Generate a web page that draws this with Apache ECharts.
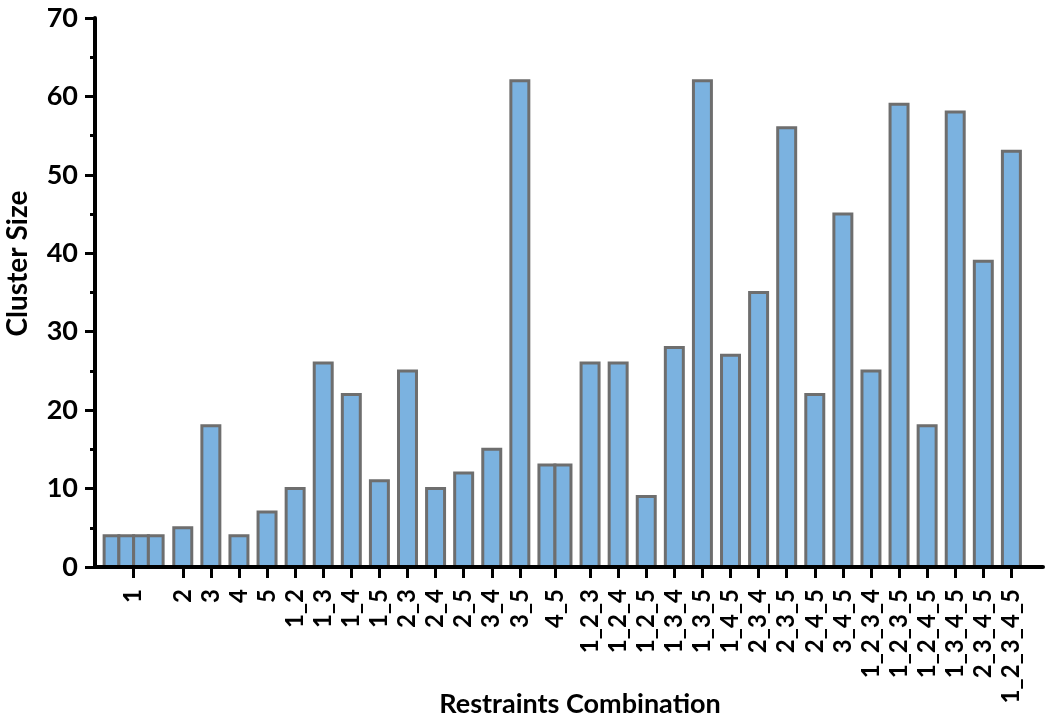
<!DOCTYPE html>
<html>
<head>
<meta charset="utf-8">
<script src="https://cdn.jsdelivr.net/npm/echarts@6/dist/echarts.min.js"></script>
<style>html,body{margin:0;padding:0;background:#fff;}#chart{width:1050px;height:725px;}</style>
</head>
<body>
<div id="chart"></div>
<script>
// ---- data ----
const categories = ['1','2','3','4','5','1_2','1_3','1_4','1_5','2_3','2_4','2_5','3_4','3_5','4_5',
  '1_2_3','1_2_4','1_2_5','1_3_4','1_3_5','1_4_5','2_3_4','2_3_5','2_4_5','3_4_5',
  '1_2_3_4','1_2_3_5','1_2_4_5','1_3_4_5','2_3_4_5','1_2_3_4_5'];
const clusterSizes = [[4,4,4,4],[5],[18],[4],[7],[10],[26],[22],[11],[25],[10],[12],[15],[62],[13,13],
  [26],[26],[9],[28],[62],[27],[35],[56],[22],[45],
  [25],[59],[18],[58],[39],[53]];
const yMin = 0, yMax = 70, yStep = 10;
const yTitle = 'Cluster Size';
const xTitle = 'Restraints Combination';

// ---- layout (fine slots on the category axis) ----
const SLOT_TOTAL = 135;
const slotPos = [];
let s = 5;
categories.forEach((c, i) => {
  if (i > 0) s += (c === '2' ? 7 : (c === '4_5' || c === '1_2_3') ? 5 : 4);
  slotPos.push(s);
});
const axisData = Array.from({length: SLOT_TOTAL}, (_, i) => '#' + i);
slotPos.forEach((p, i) => { axisData[p] = categories[i]; });
const isLabel = (i, v) => typeof v === 'string' && v.charAt(0) !== '#';

const barData = [];
clusterSizes.forEach((vals, i) => vals.forEach((v, k) => barData.push([slotPos[i], v, k, vals.length])));

const FONT = 'Lato';
const chart = echarts.init(document.getElementById('chart'), null, {renderer: 'canvas'});
chart.setOption({
  backgroundColor: '#ffffff',
  animation: false,
  grid: {left: 95, right: 7, top: 18, bottom: 158, containLabel: false, outerBoundsMode: 'none'},
  xAxis: {
    type: 'category',
    data: axisData,
    z: 5,
    boundaryGap: true,
    axisLine: {lineStyle: {color: '#000', width: 4}},
    axisTick: {show: true, alignWithLabel: true, interval: isLabel, length: 11, lineStyle: {color: '#000', width: 3}},
    axisLabel: {interval: isLabel, rotate: 90, margin: 22, color: '#000', fontFamily: FONT, fontWeight: 'bold', fontSize: 24},
    splitLine: {show: false},
    name: xTitle,
    nameLocation: 'middle',
    nameGap: 124,
    nameMoveOverlap: false,
    nameTextStyle: {color: '#000', fontFamily: FONT, fontWeight: 'bold', fontSize: 27, padding: [0, 0, 0, 22]}
  },
  yAxis: {
    type: 'value',
    min: yMin, max: yMax, interval: yStep,
    z: 5,
    axisLine: {show: true, lineStyle: {color: '#000', width: 4}},
    axisTick: {show: true, length: 10, lineStyle: {color: '#000', width: 3}},
    minorTick: {show: true, splitNumber: 2, length: 5, lineStyle: {color: '#000', width: 3}},
    axisLabel: {margin: 17, color: '#000', fontFamily: FONT, fontWeight: 'bold', fontSize: 27},
    splitLine: {show: false},
    name: yTitle,
    nameLocation: 'middle',
    nameGap: 63,
    nameMoveOverlap: false,
    nameTextStyle: {color: '#000', fontFamily: FONT, fontWeight: 'bold', fontSize: 28, padding: [0, 0, 0, 58]}
  },
  series: [{
    type: 'custom',
    z: 2,
    encode: {x: 0, y: 1},
    data: barData,
    renderItem: function (params, api) {
      const slot = api.value(0), v = api.value(1), k = api.value(2), n = api.value(3);
      const unit = api.size([1, 0])[0];
      const w = (n === 1 ? 2.56 : n === 2 ? 2.28 : 2.1) * unit;
      const base = api.coord([slot, 0]);
      const top = api.coord([slot, v]);
      const x0 = base[0] - n * w / 2 + k * w;
      return {
        type: 'rect',
        shape: {x: x0, y: top[1], width: w, height: base[1] - top[1]},
        style: {fill: '#7BB2E0', stroke: '#6E6E6E', lineWidth: 3}
      };
    }
  }]
});
</script>
</body>
</html>
